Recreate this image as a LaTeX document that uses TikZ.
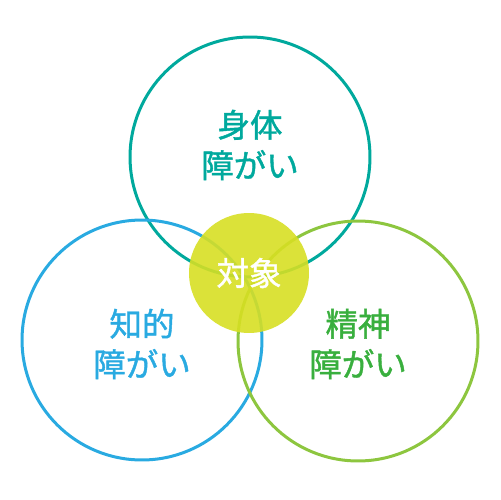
\documentclass[tikz,border=0pt]{standalone}
\usepackage{fontspec}
\newfontfamily\jpfont[FakeBold=1.3]{Noto Sans CJK JP}
\usetikzlibrary{positioning}
\definecolor{RingTeal}{RGB}{0,169,157}
\definecolor{RingBlue}{RGB}{41,170,225}
\definecolor{RingGreen}{RGB}{141,198,63}
\definecolor{TextGreen}{RGB}{57,175,62}
\definecolor{CoreYellow}{RGB}{215,223,35}

\begin{document}
\begin{tikzpicture}[x=0.02cm,y=-0.02cm]
        \tikzset{ring/.style={circle,draw=#1,line width=0.06cm,minimum size=4.8cm,inner sep=0pt},
          tag/.style={align=center,font=\jpfont\fontsize{18.5}{23}\selectfont}}
        \useasboundingbox (0,0) rectangle (500,500);
        \node[ring=RingTeal] (body) at (250,157) {};
        \node[ring=RingBlue] (mind) at (142,340) {};
        \node[ring=RingGreen] (psy) at (358,341) {};
        \node[tag,text=RingTeal] (bodytxt) at (250,145) {身体\\障がい};
        \node[tag,text=RingBlue] (mindtxt) at (142,344) {知的\\障がい};
        \node[tag,text=TextGreen] (psytxt) at (358,344) {精神\\障がい};
        \node[circle,fill=CoreYellow,fill opacity=0.9,text opacity=1,minimum size=2.4cm,inner sep=0pt,
          text=white,font=\jpfont\fontsize{18.5}{23}\selectfont] (core) at (249,273) {対象};
      \end{tikzpicture}
\end{document}
